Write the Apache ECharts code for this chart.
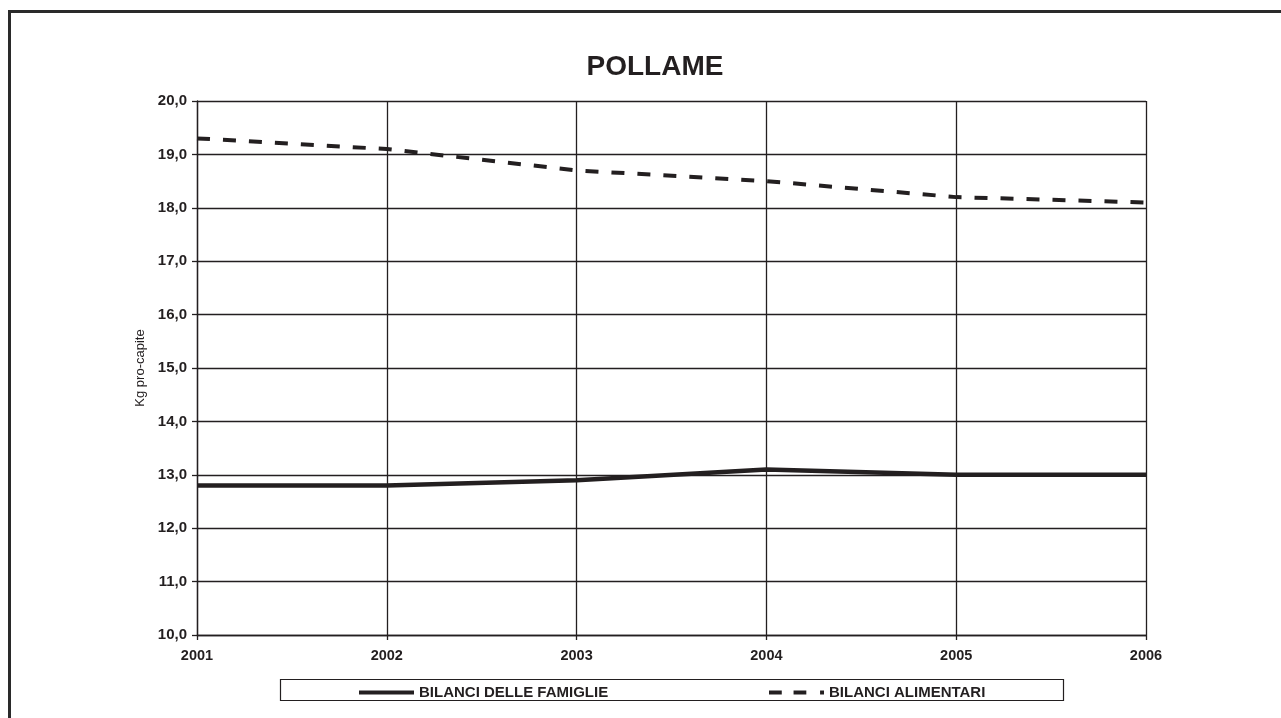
<!DOCTYPE html>
<html>
<head>
<meta charset="utf-8">
<script src="https://cdn.jsdelivr.net/npm/echarts@6/dist/echarts.min.js"></script>
<style>
html,body{margin:0;padding:0;background:#fff;}
#c{width:1281px;height:718px;}
</style>
</head>
<body>
<div id="c"></div>
<script>
const years = ['2001','2002','2003','2004','2005','2006'];
const famiglie = [12.8, 12.8, 12.9, 13.1, 13.0, 13.0];
const alimentari = [19.3, 19.1, 18.7, 18.5, 18.2, 18.1];
const yMin = 10, yMax = 20, yStep = 1;

const FONT = 'Arial, "Liberation Sans", sans-serif';
const INK = '#231f20';
const chart = echarts.init(document.getElementById('c'), null, {renderer:'canvas'});
chart.setOption({
  animation: false,
  backgroundColor: '#fff',
  title: {
    text: 'POLLAME', left: 650, top: 48, textAlign: 'center',
    textStyle: {fontFamily: FONT, fontSize: 28, fontWeight: 'bold', color: INK}
  },
  graphic: [
    {type:'rect', shape:{x:9.5, y:11.5, width:1290, height:720}, style:{fill:'none', stroke:'#2a2a2a', lineWidth:3}, silent:true, z:-1},
    {type:'rect', shape:{x:280.5, y:679.5, width:783, height:21}, style:{fill:'#fff', stroke:INK, lineWidth:1.2}, silent:true, z:-1}
  ],
  legend: [
    {data:['BILANCI DELLE FAMIGLIE'], left: 354, top: 680, itemWidth: 55, itemHeight: 4, itemGap: 0,
     icon: 'rect', symbolKeepAspect: false,
     textStyle:{fontFamily:FONT, fontSize:15, fontWeight:'bold', color:INK}},
    {data:['BILANCI ALIMENTARI'], left: 764, top: 680, itemWidth: 55, itemHeight: 4, itemGap: 0,
     icon: 'path://M0,0h13v4h-13zM25,0h13v4h-13zM52,0h4v4h-4z', symbolKeepAspect: false,
     textStyle:{fontFamily:FONT, fontSize:15, fontWeight:'bold', color:INK}}
  ],
  grid: {left: 197, right: 135, top: 101, bottom: 83, containLabel: false},
  xAxis: {
    type: 'category', data: years, boundaryGap: false,
    axisLine: {lineStyle:{color: INK, width: 1.3}},
    axisTick: {show: true, length: 5, lineStyle:{color: INK, width: 1.3}},
    axisLabel: {fontFamily: FONT, fontSize: 14.5, fontWeight: 'bold', color: INK, margin: 13},
    splitLine: {show: true, lineStyle:{color: INK, width: 1.3}}
  },
  yAxis: {
    type: 'value', min: yMin, max: yMax, interval: yStep,
    name: 'Kg pro-capite', nameLocation: 'middle', nameGap: 48, nameRotate: 90,
    nameTextStyle: {fontFamily: FONT, fontSize: 13, color: INK},
    axisLine: {show: true, lineStyle:{color: INK, width: 1.3}},
    axisTick: {show: true, length: 5, lineStyle:{color: INK, width: 1.3}},
    axisLabel: {fontFamily: FONT, fontSize: 15, fontWeight: 'bold', color: INK, margin: 10,
      formatter: v => v.toFixed(1).replace('.', ',')},
    splitLine: {show: true, lineStyle:{color: INK, width: 1.3}}
  },
  series: [
    {name: 'BILANCI DELLE FAMIGLIE', type: 'line', data: famiglie, symbol: 'none',
     lineStyle: {color: INK, width: 4.5}, itemStyle:{color: INK}},
    {name: 'BILANCI ALIMENTARI', type: 'line', data: alimentari, symbol: 'none',
     lineStyle: {color: INK, width: 4, type: [13, 13]}, itemStyle:{color: INK}}
  ]
});
</script>
</body>
</html>
